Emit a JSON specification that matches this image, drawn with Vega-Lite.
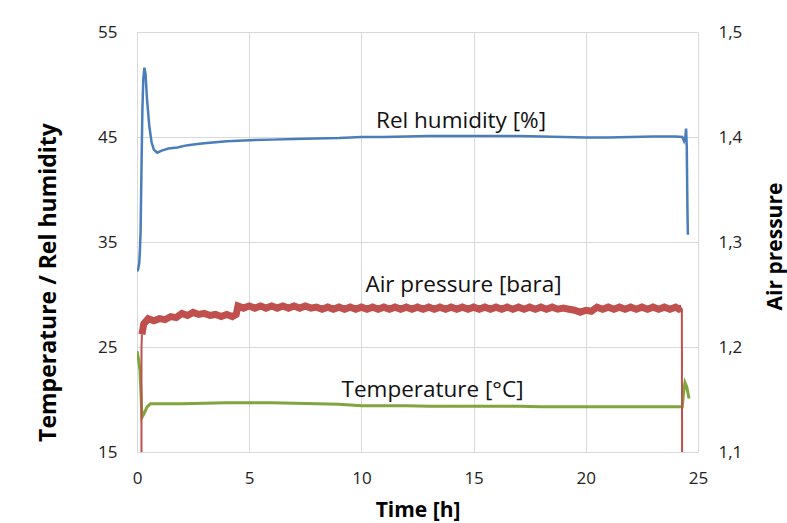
{
  "$schema": "https://vega.github.io/schema/vega-lite/v6.json",
  "width": 561,
  "height": 420,
  "autosize": "none",
  "padding": {"left": 137, "top": 32, "right": 89, "bottom": 71},
  "background": "white",
  "config": {
    "view": {"stroke": null},
    "font": "Open Sans",
    "axis": {
      "labelFont": "Open Sans", "labelFontSize": 17, "labelColor": "#222", "labelFlush": false,
      "titleFont": "Open Sans", "titleFontSize": 21, "titleFontWeight": "bold", "titleColor": "#000",
      "ticks": false, "tickSize": 0, "gridColor": "#d9d9d9", "gridWidth": 1, "domainColor": "#d9d9d9"
    }
  },
  "datasets": {
    "hum": [
      {"t": 0, "v": 32.2}, {"t": 0.05, "v": 32.4}, {"t": 0.1, "v": 33.0}, {"t": 0.13, "v": 34.2},
      {"t": 0.16, "v": 36.0}, {"t": 0.2, "v": 42.0}, {"t": 0.24, "v": 47.5}, {"t": 0.28, "v": 50.5},
      {"t": 0.33, "v": 51.6}, {"t": 0.38, "v": 51.0}, {"t": 0.45, "v": 48.5}, {"t": 0.55, "v": 46.0},
      {"t": 0.65, "v": 44.5}, {"t": 0.75, "v": 43.8}, {"t": 0.9, "v": 43.5}, {"t": 1.1, "v": 43.7},
      {"t": 1.4, "v": 43.9}, {"t": 1.8, "v": 44.0}, {"t": 2.2, "v": 44.2}, {"t": 2.6, "v": 44.3},
      {"t": 3.0, "v": 44.4}, {"t": 3.5, "v": 44.5}, {"t": 4, "v": 44.6}, {"t": 5, "v": 44.7},
      {"t": 6, "v": 44.75}, {"t": 7, "v": 44.8}, {"t": 8, "v": 44.85}, {"t": 9, "v": 44.9},
      {"t": 10, "v": 45.0}, {"t": 11, "v": 45.0}, {"t": 12, "v": 45.05}, {"t": 13, "v": 45.1},
      {"t": 14, "v": 45.1}, {"t": 15, "v": 45.1}, {"t": 16, "v": 45.1}, {"t": 17, "v": 45.1},
      {"t": 18, "v": 45.05}, {"t": 19, "v": 45.0}, {"t": 20, "v": 44.95}, {"t": 21, "v": 44.95},
      {"t": 22, "v": 45.0}, {"t": 23, "v": 45.05}, {"t": 24, "v": 45.05}, {"t": 24.3, "v": 45.0},
      {"t": 24.38, "v": 44.6}, {"t": 24.43, "v": 44.9}, {"t": 24.47, "v": 45.8}, {"t": 24.5, "v": 44.0},
      {"t": 24.53, "v": 38.0}, {"t": 24.55, "v": 35.7}
    ],
    "temp": [
      {"t": 0, "v": 24.6}, {"t": 0.07, "v": 23.8}, {"t": 0.13, "v": 22.8}, {"t": 0.18, "v": 20.5},
      {"t": 0.22, "v": 18.3}, {"t": 0.3, "v": 18.6}, {"t": 0.45, "v": 19.3}, {"t": 0.6, "v": 19.6},
      {"t": 1, "v": 19.6}, {"t": 2, "v": 19.6}, {"t": 3, "v": 19.65}, {"t": 4, "v": 19.7},
      {"t": 5, "v": 19.7}, {"t": 6, "v": 19.7}, {"t": 7, "v": 19.65}, {"t": 8, "v": 19.6},
      {"t": 9, "v": 19.55}, {"t": 10, "v": 19.4}, {"t": 11, "v": 19.4}, {"t": 12, "v": 19.4},
      {"t": 13, "v": 19.35}, {"t": 14, "v": 19.35}, {"t": 15, "v": 19.35}, {"t": 16, "v": 19.35},
      {"t": 17, "v": 19.35}, {"t": 18, "v": 19.3}, {"t": 19, "v": 19.3}, {"t": 20, "v": 19.3},
      {"t": 21, "v": 19.3}, {"t": 22, "v": 19.3}, {"t": 23, "v": 19.3}, {"t": 24, "v": 19.3},
      {"t": 24.3, "v": 19.3}, {"t": 24.35, "v": 20.5}, {"t": 24.42, "v": 21.6}, {"t": 24.5, "v": 21.2},
      {"t": 24.6, "v": 20.1}
    ],
    "pres": [
      {"t": 0.22, "p": 1.212}, {"t": 0.3, "p": 1.222},
      {"t": 0.5, "p": 1.227}, {"t": 0.75, "p": 1.225}, {"t": 1.0, "p": 1.227}, {"t": 1.25, "p": 1.226},
      {"t": 1.5, "p": 1.229}, {"t": 1.75, "p": 1.228}, {"t": 2.0, "p": 1.232}, {"t": 2.25, "p": 1.230},
      {"t": 2.5, "p": 1.233}, {"t": 2.75, "p": 1.231}, {"t": 3.0, "p": 1.232}, {"t": 3.25, "p": 1.230},
      {"t": 3.5, "p": 1.231}, {"t": 3.75, "p": 1.229}, {"t": 4.0, "p": 1.231}, {"t": 4.25, "p": 1.229},
      {"t": 4.42, "p": 1.231}, {"t": 4.5, "p": 1.239}, {"t": 4.75, "p": 1.237}, {"t": 5.0, "p": 1.239},
      {"t": 5.25, "p": 1.237}, {"t": 5.5, "p": 1.239}, {"t": 5.75, "p": 1.237}, {"t": 6.0, "p": 1.239},
      {"t": 6.25, "p": 1.237}, {"t": 6.5, "p": 1.239}, {"t": 6.75, "p": 1.237}, {"t": 7.0, "p": 1.239},
      {"t": 7.25, "p": 1.237}, {"t": 7.5, "p": 1.239}, {"t": 7.75, "p": 1.237}, {"t": 8.0, "p": 1.238},
      {"t": 8.25, "p": 1.236}, {"t": 8.5, "p": 1.238}, {"t": 8.75, "p": 1.236}, {"t": 9.0, "p": 1.238},
      {"t": 9.25, "p": 1.236}, {"t": 9.5, "p": 1.238}, {"t": 9.75, "p": 1.236}, {"t": 10.0, "p": 1.238},
      {"t": 10.25, "p": 1.236}, {"t": 10.5, "p": 1.238}, {"t": 10.75, "p": 1.236}, {"t": 11.0, "p": 1.238},
      {"t": 11.25, "p": 1.236}, {"t": 11.5, "p": 1.238}, {"t": 11.75, "p": 1.236}, {"t": 12.0, "p": 1.238},
      {"t": 12.25, "p": 1.236}, {"t": 12.5, "p": 1.238}, {"t": 12.75, "p": 1.236}, {"t": 13.0, "p": 1.238},
      {"t": 13.25, "p": 1.236}, {"t": 13.5, "p": 1.238}, {"t": 13.75, "p": 1.236}, {"t": 14.0, "p": 1.238},
      {"t": 14.25, "p": 1.236}, {"t": 14.5, "p": 1.238}, {"t": 14.75, "p": 1.236}, {"t": 15.0, "p": 1.238},
      {"t": 15.25, "p": 1.236}, {"t": 15.5, "p": 1.238}, {"t": 15.75, "p": 1.236}, {"t": 16.0, "p": 1.238},
      {"t": 16.25, "p": 1.236}, {"t": 16.5, "p": 1.238}, {"t": 16.75, "p": 1.236}, {"t": 17.0, "p": 1.238},
      {"t": 17.25, "p": 1.236}, {"t": 17.5, "p": 1.238}, {"t": 17.75, "p": 1.236}, {"t": 18.0, "p": 1.238},
      {"t": 18.25, "p": 1.236}, {"t": 18.5, "p": 1.238}, {"t": 18.75, "p": 1.236}, {"t": 19.0, "p": 1.237},
      {"t": 19.25, "p": 1.236}, {"t": 19.5, "p": 1.235}, {"t": 19.75, "p": 1.233}, {"t": 20.0, "p": 1.235},
      {"t": 20.25, "p": 1.234}, {"t": 20.5, "p": 1.238}, {"t": 20.75, "p": 1.236}, {"t": 21.0, "p": 1.238},
      {"t": 21.25, "p": 1.236}, {"t": 21.5, "p": 1.238}, {"t": 21.75, "p": 1.236}, {"t": 22.0, "p": 1.238},
      {"t": 22.25, "p": 1.236}, {"t": 22.5, "p": 1.238}, {"t": 22.75, "p": 1.236}, {"t": 23.0, "p": 1.238},
      {"t": 23.25, "p": 1.236}, {"t": 23.5, "p": 1.238}, {"t": 23.75, "p": 1.236}, {"t": 24.0, "p": 1.238},
      {"t": 24.15, "p": 1.236}, {"t": 24.28, "p": 1.237}
    ],
    "presdrop": [
      {"part": "start", "t": 0.2, "p": 1.0}, {"part": "start", "t": 0.2, "p": 1.2}, {"part": "start", "t": 0.22, "p": 1.212},
      {"part": "end", "t": 24.28, "p": 1.237}, {"part": "end", "t": 24.3, "p": 1.0}
    ],
    "labels": [
      {"t": 14.44, "v": 46.57, "label": "Rel humidity [%]"},
      {"t": 14.55, "v": 30.95, "label": "Air pressure [bara]"},
      {"t": 13.17, "v": 20.9, "label": "Temperature [°C]"}
    ]
  },
  "layer": [
    {
      "encoding": {
        "x": {"field": "t", "type": "quantitative", "scale": {"domain": [0, 25], "nice": false},
          "axis": {"title": "Time [h]", "values": [0, 5, 10, 15, 20, 25], "grid": true, "domain": false,
            "labelPadding": 18, "titleX": 280.5, "titleY": 58, "titleBaseline": "middle"}},
        "y": {"field": "v", "type": "quantitative", "scale": {"domain": [15, 55], "nice": false, "zero": false},
          "axis": {"title": "Temperature / Rel humidity", "values": [15, 25, 35, 45, 55], "grid": true, "domain": false,
            "labelPadding": 20, "titleFontSize": 23, "titleX": -89, "titleY": 250, "titleAngle": -90, "titleAlign": "center", "titleBaseline": "middle"}}
      },
      "layer": [
        {"data": {"name": "hum"}, "mark": {"type": "line", "color": "#4a7ebb", "strokeWidth": 2.5, "clip": true}},
        {"data": {"name": "temp"}, "mark": {"type": "line", "color": "#7fa53f", "strokeWidth": 3, "clip": true}},
        {"data": {"name": "labels"}, "mark": {"type": "text", "font": "Open Sans", "fontSize": 22.5, "color": "#111", "align": "center", "baseline": "middle"},
          "encoding": {"text": {"field": "label", "type": "nominal"}}}
      ]
    },
    {
      "encoding": {
        "x": {"field": "t", "type": "quantitative", "scale": {"domain": [0, 25], "nice": false}},
        "y": {"field": "p", "type": "quantitative", "scale": {"domain": [1.1, 1.5], "nice": false, "zero": false},
          "axis": {"title": "Air pressure", "orient": "right", "values": [1.1, 1.2, 1.3, 1.4, 1.5], "grid": false, "domain": false,
            "labelPadding": 20, "labelExpr": "replace(format(datum.value, '.1f'), '.', ',')",
            "titleX": 77, "titleY": 214, "titleAngle": -90, "titleAlign": "center", "titleBaseline": "middle"}}
      },
      "layer": [
        {"data": {"name": "presdrop"}, "mark": {"type": "line", "color": "#c0504d", "strokeWidth": 2, "clip": true},
          "encoding": {"detail": {"field": "part", "type": "nominal"}}},
        {"data": {"name": "pres"}, "mark": {"type": "line", "color": "#c0504d", "strokeWidth": 7, "clip": true}}
      ]
    }
  ],
  "resolve": {"scale": {"y": "independent"}}
}
